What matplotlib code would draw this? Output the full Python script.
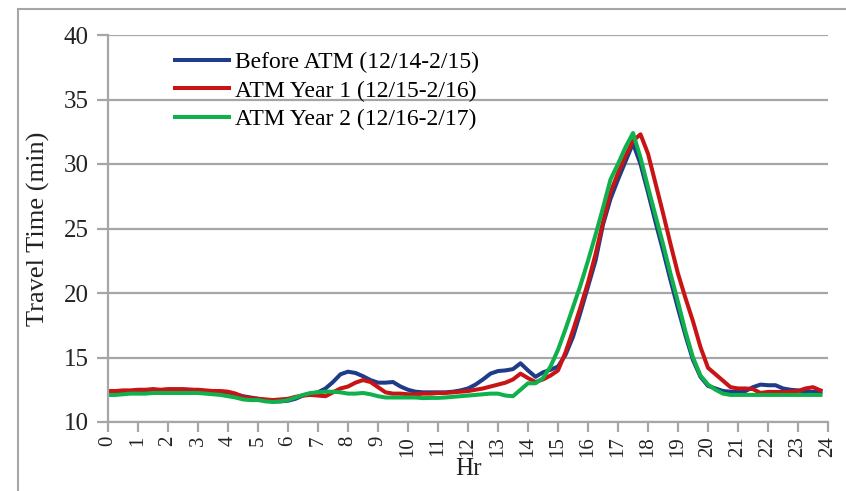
import numpy as np
import matplotlib
matplotlib.use("Agg")
import matplotlib.pyplot as plt
from matplotlib.patches import Rectangle

plt.rcParams['font.family'] = ['Liberation Serif', 'DejaVu Serif']

# 15-minute bins over the day
hours = np.arange(96) / 4.0

before_atm = [
    12.4, 12.4, 12.4, 12.4,
    12.4, 12.45, 12.5, 12.45,
    12.5, 12.5, 12.5, 12.5,
    12.45, 12.4, 12.4, 12.35,
    12.3, 12.15, 12.0, 11.9,
    11.8, 11.7, 11.6, 11.6,
    11.65, 11.8, 12.05, 12.2,
    12.3, 12.6, 13.1, 13.7,
    13.9, 13.8, 13.55, 13.25,
    13.05, 13.05, 13.1, 12.75,
    12.5, 12.35, 12.3, 12.3,
    12.3, 12.3, 12.35, 12.45,
    12.6, 12.9, 13.3, 13.75,
    13.95, 14.0, 14.1, 14.55,
    14.0, 13.5, 13.85, 14.05,
    14.3, 15.2, 16.6, 18.5,
    20.5, 22.5, 25.3, 27.3,
    28.8, 30.2, 31.6, 30.0,
    27.8, 25.5, 23.3, 21.0,
    18.8, 16.7, 14.8, 13.5,
    12.8, 12.6, 12.4, 12.35,
    12.33, 12.4, 12.7, 12.9,
    12.85, 12.85, 12.6, 12.5,
    12.45, 12.35, 12.33, 12.33,
]

atm_year1 = [
    12.4, 12.4, 12.45, 12.45,
    12.5, 12.5, 12.55, 12.5,
    12.55, 12.55, 12.55, 12.5,
    12.5, 12.45, 12.4, 12.4,
    12.35, 12.2, 11.95, 11.85,
    11.8, 11.75, 11.7, 11.75,
    11.8, 11.95, 12.05, 12.1,
    12.05, 12.0, 12.3, 12.6,
    12.75, 13.05, 13.25, 13.1,
    12.7, 12.3, 12.2, 12.2,
    12.15, 12.15, 12.2, 12.2,
    12.25, 12.25, 12.3, 12.35,
    12.4, 12.5, 12.6, 12.75,
    12.9, 13.05, 13.3, 13.75,
    13.4, 13.1, 13.3, 13.6,
    14.0, 15.4, 17.1, 18.9,
    20.8, 23.0, 25.5, 27.8,
    29.3, 30.6, 31.8, 32.3,
    30.8, 28.5, 26.2, 23.8,
    21.5, 19.6, 17.8, 15.8,
    14.2, 13.7, 13.2, 12.7,
    12.6, 12.6, 12.55, 12.25,
    12.33, 12.33, 12.33, 12.35,
    12.4, 12.6, 12.7, 12.45,
]

atm_year2 = [
    12.1, 12.1, 12.15, 12.2,
    12.2, 12.2, 12.25, 12.25,
    12.25, 12.25, 12.25, 12.25,
    12.25, 12.2, 12.15, 12.1,
    12.0, 11.9, 11.75, 11.7,
    11.7, 11.6, 11.55, 11.6,
    11.7, 11.9, 12.1, 12.25,
    12.3, 12.35, 12.35, 12.3,
    12.2, 12.2, 12.25, 12.15,
    12.0, 11.9, 11.9, 11.9,
    11.9, 11.9, 11.85, 11.87,
    11.87, 11.9, 11.95, 12.0,
    12.05, 12.1, 12.15, 12.2,
    12.2, 12.05, 12.0, 12.5,
    13.0, 13.0, 13.4, 14.3,
    15.6, 17.2, 18.9, 20.6,
    22.5, 24.5, 26.6, 28.8,
    30.0, 31.3, 32.4, 30.5,
    28.2, 26.0, 23.8, 21.5,
    19.3, 17.0, 15.0, 13.6,
    12.9, 12.5, 12.2, 12.1,
    12.1, 12.1, 12.1, 12.1,
    12.1, 12.1, 12.1, 12.1,
    12.1, 12.1, 12.1, 12.1,
]

labels = ['Before ATM (12/14-2/15)', 'ATM Year 1 (12/15-2/16)', 'ATM Year 2 (12/16-2/17)']
colors = ['#1f3c88', '#c81414', '#10b04c']

fig = plt.figure(figsize=(8.46, 4.91), dpi=100)
fig.patches.append(Rectangle((18 / 846, -0.1), 1.0, 1.0817, transform=fig.transFigure,
                             fill=False, edgecolor='#a6a6a6', linewidth=1.5))
ax = fig.add_axes([108 / 846, 1 - 422 / 491, 720 / 846, 387 / 491])

for series, label, color in zip([before_atm, atm_year1, atm_year2], labels, colors):
    ax.plot(hours, series, color=color, linewidth=2.9, label=label, solid_joinstyle='round')

ax.set_xlim(0, 24)
ax.set_ylim(10, 40)
ax.set_xticks(range(0, 25))
ax.set_xticklabels([str(h) for h in range(0, 25)], rotation=90, fontsize=15, color='#222222')
ax.set_yticks(range(10, 41, 5))
ax.set_yticklabels([str(v) for v in range(10, 41, 5)], fontsize=18, color='#222222')
ax.yaxis.grid(True, color='#a6a6a6', linewidth=1.6)
ax.set_axisbelow(True)
for side in ['top', 'right']:
    ax.spines[side].set_visible(False)
for side in ['left', 'bottom']:
    ax.spines[side].set_color('#a6a6a6')
    ax.spines[side].set_linewidth(1.6)
ax.tick_params(axis='both', colors='#a6a6a6', labelcolor='#222222', width=1.6)
ax.tick_params(axis='x', length=7, pad=3)
ax.tick_params(axis='y', length=8, pad=6)

ax.set_xlabel('Hr', fontsize=18, color='#222222', labelpad=1)
ax.set_ylabel('Travel Time (min)', fontsize=19, color='#222222', labelpad=10)

ax.legend(loc='upper left', bbox_to_anchor=(0.07, 1.0), frameon=False, fontsize=17,
          handlelength=2.3, handletextpad=0.25, labelspacing=0.3, borderaxespad=0.3)

fig.savefig('out.png', dpi=100)
